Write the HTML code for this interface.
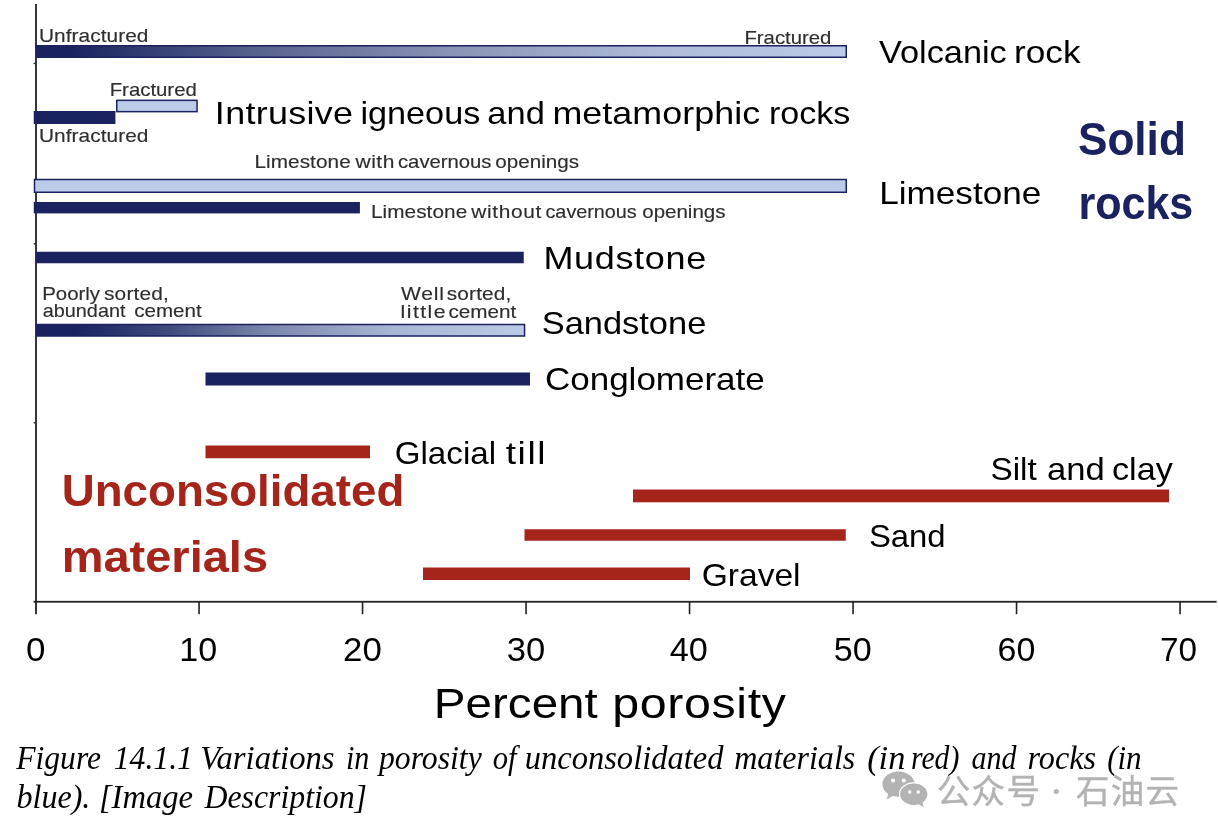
<!DOCTYPE html>
<html lang="en">
<head>
<meta charset="utf-8">
<title>Figure 14.1.1 Variations in porosity</title>
<style>
html,body{margin:0;padding:0;background:#fff;}
body{width:1218px;height:840px;overflow:hidden;font-family:"Liberation Sans",sans-serif;}
svg{display:block;filter:blur(0.45px);}
text{font-family:"Liberation Sans",sans-serif;}
.cap{font-family:"Liberation Serif",serif;font-style:italic;}
</style>
</head>
<body>
<svg width="1218" height="840" viewBox="0 0 1218 840">
<defs>
<linearGradient id="g1" x1="0" y1="0" x2="1" y2="0">
<stop offset="0" stop-color="#1a2260"/><stop offset="0.04" stop-color="#1a2260"/><stop offset="0.27" stop-color="#58628e"/><stop offset="0.51" stop-color="#8993b5"/><stop offset="0.76" stop-color="#aebad8"/><stop offset="1" stop-color="#bccbe8"/>
</linearGradient>
<linearGradient id="g2" x1="0" y1="0" x2="1" y2="0">
<stop offset="0" stop-color="#1a2260"/><stop offset="0.08" stop-color="#1a2260"/><stop offset="0.27" stop-color="#404a7e"/><stop offset="0.47" stop-color="#7b86ab"/><stop offset="0.72" stop-color="#a8b4d3"/><stop offset="1" stop-color="#bccbe8"/>
</linearGradient>
</defs>
<rect x="0" y="0" width="1218" height="840" fill="#ffffff"/>
<!-- axes -->
<rect x="35.1" y="4" width="1.8" height="598.6" fill="#222226"/>
<rect x="33.6" y="600.85" width="1183" height="1.8" fill="#222226"/>
<rect x="33.7" y="62.70" width="1.6" height="1.4" fill="#222226"/>
<rect x="33.7" y="243.10" width="1.6" height="1.4" fill="#222226"/>
<rect x="33.7" y="422.10" width="1.6" height="1.4" fill="#222226"/>
<rect x="35.10" y="601" width="1.8" height="13.2" fill="#222226"/>
<rect x="198.25" y="601" width="1.6" height="13.2" fill="#222226"/>
<rect x="361.75" y="601" width="1.6" height="13.2" fill="#222226"/>
<rect x="525.25" y="601" width="1.6" height="13.2" fill="#222226"/>
<rect x="688.75" y="601" width="1.6" height="13.2" fill="#222226"/>
<rect x="852.25" y="601" width="1.6" height="13.2" fill="#222226"/>
<rect x="1015.75" y="601" width="1.6" height="13.2" fill="#222226"/>
<rect x="1179.25" y="601" width="1.6" height="13.2" fill="#222226"/>
<!-- bars: solid rocks (navy) -->
<rect x="36.35" y="45.75" width="809.90" height="11.50" fill="url(#g1)" stroke="#1a2260" stroke-width="1.50"/>
<rect x="116.75" y="100.35" width="80.30" height="11.30" fill="#bccbe8" stroke="#1a2260" stroke-width="1.50"/>
<rect x="33.75" y="111.00" width="81.65" height="13.00" fill="#1a2260"/>
<rect x="34.50" y="179.50" width="811.75" height="12.75" fill="#bccbe8" stroke="#1a2260" stroke-width="1.50"/>
<rect x="33.75" y="202.00" width="326.15" height="11.40" fill="#1a2260"/>
<rect x="36.00" y="251.75" width="487.75" height="11.50" fill="#1a2260"/>
<rect x="36.75" y="324.50" width="487.80" height="11.50" fill="url(#g2)" stroke="#1a2260" stroke-width="1.50"/>
<rect x="205.50" y="372.50" width="324.50" height="13.00" fill="#1a2260"/>
<!-- bars: unconsolidated (red) -->
<rect x="205.50" y="445.50" width="164.50" height="12.75" fill="#a6251b"/>
<rect x="633.00" y="489.50" width="536.00" height="12.80" fill="#a6251b"/>
<rect x="524.50" y="529.25" width="321.25" height="11.50" fill="#a6251b"/>
<rect x="423.00" y="567.50" width="267.00" height="12.50" fill="#a6251b"/>
<!-- labels -->
<text y="41.80" font-size="18.5" fill="#2e2e2e" stroke="#2e2e2e" stroke-width="0.15" x="38.96" textLength="109.57" lengthAdjust="spacingAndGlyphs" letter-spacing="0.07">Unfractured</text>
<text y="43.60" font-size="18.5" fill="#2e2e2e" stroke="#2e2e2e" stroke-width="0.15" x="744.44" textLength="86.85" lengthAdjust="spacingAndGlyphs">Fractured</text>
<text y="63.30" font-size="32" fill="#000000"><tspan x="878.99" textLength="127.77" lengthAdjust="spacingAndGlyphs">Volcanic</tspan> <tspan x="1013.91" textLength="66.61" lengthAdjust="spacingAndGlyphs">rock</tspan></text>
<text y="95.90" font-size="18.5" fill="#2e2e2e" stroke="#2e2e2e" stroke-width="0.15" x="109.70" textLength="87.10" lengthAdjust="spacingAndGlyphs">Fractured</text>
<text y="141.50" font-size="18.5" fill="#2e2e2e" stroke="#2e2e2e" stroke-width="0.15" x="38.96" textLength="109.57" lengthAdjust="spacingAndGlyphs" letter-spacing="0.07">Unfractured</text>
<text y="123.75" font-size="32" fill="#000000"><tspan x="214.88" textLength="138.43" lengthAdjust="spacingAndGlyphs" letter-spacing="0.27">Intrusive</tspan> <tspan x="360.44" textLength="119.85" lengthAdjust="spacingAndGlyphs">igneous</tspan> <tspan x="487.39" textLength="57.50" lengthAdjust="spacingAndGlyphs">and</tspan> <tspan x="552.46" textLength="207.81" lengthAdjust="spacingAndGlyphs" letter-spacing="0.05">metamorphic</tspan> <tspan x="768.90" textLength="81.42" lengthAdjust="spacingAndGlyphs">rocks</tspan></text>
<text y="167.50" font-size="18.5" fill="#2e2e2e" stroke="#2e2e2e" stroke-width="0.15"><tspan x="254.46" textLength="96.33" lengthAdjust="spacingAndGlyphs" letter-spacing="0.06">Limestone</tspan> <tspan x="355.49" textLength="39.32" lengthAdjust="spacingAndGlyphs" letter-spacing="0.45">with</tspan> <tspan x="397.99" textLength="93.52" lengthAdjust="spacingAndGlyphs">cavernous</tspan> <tspan x="495.23" textLength="83.78" lengthAdjust="spacingAndGlyphs">openings</tspan></text>
<text y="204.30" font-size="32" fill="#000000" x="879.17" textLength="162.12" lengthAdjust="spacingAndGlyphs">Limestone</text>
<text y="218.00" font-size="18.5" fill="#2e2e2e" stroke="#2e2e2e" stroke-width="0.15"><tspan x="370.96" textLength="96.33" lengthAdjust="spacingAndGlyphs" letter-spacing="0.06">Limestone</tspan> <tspan x="471.25" textLength="70.75" lengthAdjust="spacingAndGlyphs" letter-spacing="0.59">without</tspan> <tspan x="545.49" textLength="91.27" lengthAdjust="spacingAndGlyphs">cavernous</tspan> <tspan x="642.23" textLength="83.27" lengthAdjust="spacingAndGlyphs">openings</tspan></text>
<text y="269.00" font-size="32" fill="#000000" x="543.41" textLength="163.41" lengthAdjust="spacingAndGlyphs" letter-spacing="0.58">Mudstone</text>
<text y="299.80" font-size="18.5" fill="#2e2e2e" stroke="#2e2e2e" stroke-width="0.15"><tspan x="42.20" textLength="57.81" lengthAdjust="spacingAndGlyphs">Poorly</tspan> <tspan x="103.97" textLength="65.12" lengthAdjust="spacingAndGlyphs" letter-spacing="0.18">sorted,</tspan></text>
<text y="317.40" font-size="18.5" fill="#2e2e2e" stroke="#2e2e2e" stroke-width="0.15"><tspan x="42.74" textLength="82.76" lengthAdjust="spacingAndGlyphs">abundant</tspan> <tspan x="134.24" textLength="67.51" lengthAdjust="spacingAndGlyphs">cement</tspan></text>
<text y="300.00" font-size="18.5" fill="#2e2e2e" stroke="#2e2e2e" stroke-width="0.15"><tspan x="400.99" textLength="43.60" lengthAdjust="spacingAndGlyphs" letter-spacing="0.65">Well</tspan> <tspan x="446.72" textLength="64.87" lengthAdjust="spacingAndGlyphs" letter-spacing="0.16">sorted,</tspan></text>
<text y="317.50" font-size="18.5" fill="#2e2e2e" stroke="#2e2e2e" stroke-width="0.15"><tspan x="400.63" textLength="46.25" lengthAdjust="spacingAndGlyphs" letter-spacing="1.24">little</tspan> <tspan x="448.49" textLength="67.76" lengthAdjust="spacingAndGlyphs">cement</tspan></text>
<text y="333.75" font-size="32" fill="#000000" x="541.72" textLength="164.56" lengthAdjust="spacingAndGlyphs">Sandstone</text>
<text y="390.25" font-size="32" fill="#000000" x="544.97" textLength="219.80" lengthAdjust="spacingAndGlyphs">Conglomerate</text>
<text y="463.75" font-size="32" fill="#000000"><tspan x="394.69" textLength="101.39" lengthAdjust="spacingAndGlyphs">Glacial</tspan> <tspan x="505.69" textLength="41.43" lengthAdjust="spacingAndGlyphs" letter-spacing="1.38">till</tspan></text>
<text y="506.20" font-size="45" font-weight="700" fill="#a6251b" x="61.71" textLength="342.59" lengthAdjust="spacingAndGlyphs">Unconsolidated</text>
<text y="571.70" font-size="45" font-weight="700" fill="#a6251b" x="61.67" textLength="206.38" lengthAdjust="spacingAndGlyphs">materials</text>
<text y="479.60" font-size="32" fill="#000000"><tspan x="990.42" textLength="46.34" lengthAdjust="spacingAndGlyphs">Silt</tspan> <tspan x="1046.90" textLength="57.75" lengthAdjust="spacingAndGlyphs">and</tspan> <tspan x="1111.96" textLength="60.80" lengthAdjust="spacingAndGlyphs">clay</tspan></text>
<text y="547.20" font-size="32" fill="#000000" x="868.92" textLength="76.68" lengthAdjust="spacingAndGlyphs">Sand</text>
<text y="585.50" font-size="32" fill="#000000" x="701.67" textLength="98.92" lengthAdjust="spacingAndGlyphs">Gravel</text>
<text y="154.70" font-size="46" font-weight="700" fill="#1a2260" x="1077.94" textLength="107.93" lengthAdjust="spacingAndGlyphs">Solid</text>
<text y="219.00" font-size="46" font-weight="700" fill="#1a2260" x="1078.39" textLength="114.94" lengthAdjust="spacingAndGlyphs">rocks</text>
<text y="717.60" font-size="43" fill="#000000"><tspan x="433.89" textLength="163.87" lengthAdjust="spacingAndGlyphs">Percent</tspan> <tspan x="612.17" textLength="174.35" lengthAdjust="spacingAndGlyphs" letter-spacing="0.57">porosity</tspan></text>
<text y="660.90" font-size="33.5" fill="#000000" x="26.03" textLength="19.45" lengthAdjust="spacingAndGlyphs">0</text>
<text y="660.90" font-size="33.5" fill="#000000" x="179.24" textLength="37.90" lengthAdjust="spacingAndGlyphs">10</text>
<text y="660.90" font-size="33.5" fill="#000000" x="343.10" textLength="38.76" lengthAdjust="spacingAndGlyphs">20</text>
<text y="660.90" font-size="33.5" fill="#000000" x="506.66" textLength="38.46" lengthAdjust="spacingAndGlyphs">30</text>
<text y="660.90" font-size="33.5" fill="#000000" x="669.71" textLength="38.12" lengthAdjust="spacingAndGlyphs">40</text>
<text y="660.90" font-size="33.5" fill="#000000" x="833.89" textLength="37.96" lengthAdjust="spacingAndGlyphs">50</text>
<text y="660.90" font-size="33.5" fill="#000000" x="997.61" textLength="37.75" lengthAdjust="spacingAndGlyphs">60</text>
<text y="660.90" font-size="33.5" fill="#000000" x="1160.10" textLength="37.01" lengthAdjust="spacingAndGlyphs">70</text>
<text class="cap" y="768.80" font-size="33" fill="#000000"><tspan x="16.25" textLength="84.76" lengthAdjust="spacingAndGlyphs">Figure</tspan> <tspan x="113.67" textLength="79.30" lengthAdjust="spacingAndGlyphs">14.1.1</tspan> <tspan x="200.20" textLength="134.33" lengthAdjust="spacingAndGlyphs">Variations</tspan> <tspan x="346.01" textLength="23.43" lengthAdjust="spacingAndGlyphs">in</tspan> <tspan x="378.98" textLength="102.77" lengthAdjust="spacingAndGlyphs">porosity</tspan> <tspan x="492.85" textLength="23.76" lengthAdjust="spacingAndGlyphs">of</tspan> <tspan x="524.73" textLength="198.77" lengthAdjust="spacingAndGlyphs">unconsolidated</tspan> <tspan x="734.22" textLength="121.05" lengthAdjust="spacingAndGlyphs">materials</tspan> <tspan x="867.16" textLength="38.22" lengthAdjust="spacingAndGlyphs">(in</tspan> <tspan x="910.94" textLength="48.38" lengthAdjust="spacingAndGlyphs">red)</tspan> <tspan x="971.48" textLength="45.02" lengthAdjust="spacingAndGlyphs">and</tspan> <tspan x="1027.45" textLength="68.60" lengthAdjust="spacingAndGlyphs">rocks</tspan> <tspan x="1107.16" textLength="34.48" lengthAdjust="spacingAndGlyphs">(in</tspan></text>
<text class="cap" y="807.70" font-size="33" fill="#000000"><tspan x="16.43" textLength="73.97" lengthAdjust="spacingAndGlyphs">blue).</tspan> <tspan x="98.95" textLength="94.09" lengthAdjust="spacingAndGlyphs">[Image</tspan> <tspan x="204.50" textLength="162.51" lengthAdjust="spacingAndGlyphs">Description]</tspan></text>
<!-- watermark -->
<g fill="#b3b3b3" aria-label="公众号 · 石油云">
<path d="M898.5 771.6c-8.9 0-16.1 5.6-16.1 12.6 0 3.9 2.3 7.4 5.8 9.7l-1.6 5.6 6-3.4c1.9 0.5 3.8 0.7 5.9 0.7 8.9 0 16.1-5.6 16.1-12.6s-7.2-12.6-16.1-12.6z"/>
<path d="M913.75 783.5c7.5 0 13.65 4.8 13.65 10.7 0 3.3-1.9 6.2-4.9 8.2l1.3 4.9-5.2-3c-1.5 0.4-3.2 0.6-4.85 0.6-7.5 0-13.65-4.8-13.65-10.7s6.15-10.7 13.65-10.7z" fill="#fff" stroke="#fff" stroke-width="2.4"/>
<path d="M913.75 783.5c7.5 0 13.65 4.8 13.65 10.7 0 3.3-1.9 6.2-4.9 8.2l1.3 4.9-5.2-3c-1.5 0.4-3.2 0.6-4.85 0.6-7.5 0-13.65-4.8-13.65-10.7s6.15-10.7 13.65-10.7z"/>
<circle cx="893" cy="780.5" r="2.1" fill="#fff"/><circle cx="903.8" cy="780.5" r="2.1" fill="#fff"/>
<circle cx="909.7" cy="792" r="1.7" fill="#fff"/><circle cx="918.3" cy="792" r="1.7" fill="#fff"/>
<text x="936.8 971.6 1006.4" y="802.5" font-size="33.5" fill="#b3b3b3" stroke="#b3b3b3" stroke-width="0.4" style="font-family:'Liberation Sans','Noto Sans CJK SC',sans-serif;">公众号</text>
<circle cx="1056.3" cy="791.6" r="2.5"/>
<text x="1076 1110.8 1145.6" y="802.5" font-size="33.5" fill="#b3b3b3" stroke="#b3b3b3" stroke-width="0.4" style="font-family:'Liberation Sans','Noto Sans CJK SC',sans-serif;">石油云</text>
</g>
</svg>
</body>
</html>
